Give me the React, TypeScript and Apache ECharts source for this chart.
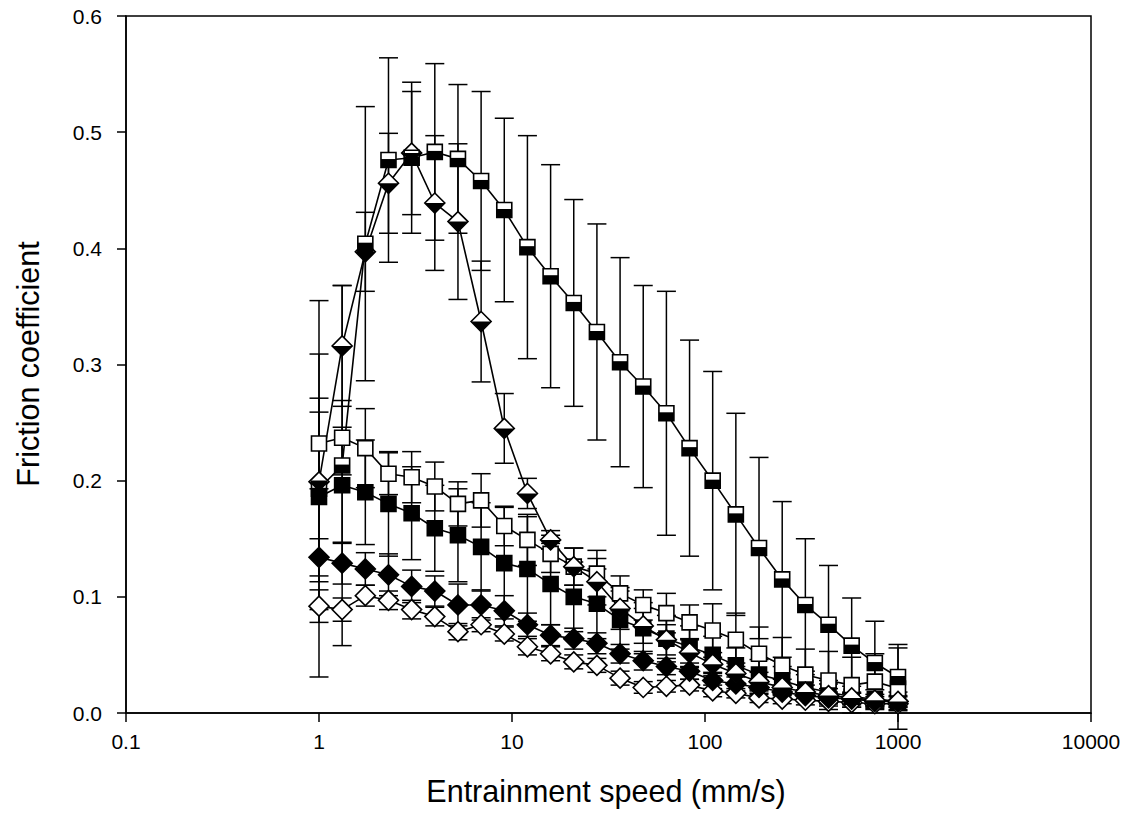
import React, { useEffect, useRef } from "react";
import * as echarts from "echarts";

const speeds = [1, 1.318, 1.738, 2.291, 3.02, 3.981, 5.248, 6.918, 9.12, 12.02, 15.85, 20.89, 27.54, 36.31, 47.86, 63.1, 83.18, 109.6, 144.5, 190.5, 251.2, 331.1, 436.5, 575.4, 758.6, 1000];

const halfSquare = [0.193, 0.213, 0.404, 0.476, 0.478, 0.483, 0.477, 0.458, 0.433, 0.401, 0.376, 0.353, 0.328, 0.302, 0.281, 0.258, 0.228, 0.2, 0.171, 0.142, 0.115, 0.093, 0.076, 0.058, 0.043, 0.031];
const halfSquareErr = [0.162, 0.155, 0.118, 0.088, 0.065, 0.076, 0.064, 0.077, 0.079, 0.096, 0.096, 0.089, 0.093, 0.09, 0.087, 0.105, 0.093, 0.094, 0.087, 0.078, 0.067, 0.057, 0.051, 0.041, 0.036, 0.028];

const halfDiamond = [0.199, 0.316, 0.397, 0.456, 0.482, 0.439, 0.423, 0.337, 0.245, 0.189, 0.149, 0.126, 0.113, 0.09, 0.075, 0.063, 0.052, 0.042, 0.034, 0.027, 0.022, 0.018, 0.015, 0.013, 0.011, 0.01];
const halfDiamondErr = [0.11, 0.052, 0.034, 0.043, 0.053, 0.058, 0.067, 0.052, 0.03, 0.013, 0.008, 0.016, 0.02, 0.018, 0.015, 0.013, 0.012, 0.01, 0.009, 0.008, 0.007, 0.006, 0.006, 0.005, 0.005, 0.005];

const openSquare = [0.232, 0.237, 0.228, 0.206, 0.203, 0.195, 0.18, 0.183, 0.161, 0.149, 0.137, 0.126, 0.12, 0.103, 0.093, 0.086, 0.078, 0.071, 0.063, 0.051, 0.041, 0.033, 0.028, 0.024, 0.027, 0.021];
const openSquareErr = [0.039, 0.032, 0.034, 0.018, 0.022, 0.021, 0.019, 0.023, 0.017, 0.022, 0.016, 0.016, 0.02, 0.015, 0.013, 0.017, 0.015, 0.023, 0.023, 0.023, 0.024, 0.022, 0.025, 0.024, 0.024, 0.035];

const filledSquare = [0.186, 0.196, 0.19, 0.18, 0.172, 0.159, 0.153, 0.143, 0.129, 0.124, 0.111, 0.1, 0.094, 0.08, 0.073, 0.064, 0.057, 0.05, 0.041, 0.033, 0.028, 0.022, 0.018, 0.014, 0.012, 0.01];
const filledSquareErr = [0.073, 0.05, 0.045, 0.045, 0.04, 0.037, 0.04, 0.038, 0.048, 0.045, 0.035, 0.03, 0.03, 0.025, 0.022, 0.02, 0.018, 0.016, 0.015, 0.013, 0.012, 0.011, 0.01, 0.009, 0.008, 0.008];

const filledDiamond = [0.134, 0.129, 0.124, 0.119, 0.109, 0.105, 0.093, 0.093, 0.088, 0.076, 0.067, 0.064, 0.06, 0.051, 0.045, 0.04, 0.036, 0.028, 0.025, 0.022, 0.018, 0.015, 0.013, 0.012, 0.01, 0.01];
const filledDiamondErr = [0.016, 0.018, 0.014, 0.018, 0.014, 0.013, 0.018, 0.013, 0.013, 0.01, 0.009, 0.009, 0.009, 0.008, 0.008, 0.007, 0.007, 0.007, 0.006, 0.006, 0.006, 0.005, 0.005, 0.005, 0.004, 0.004];

const openDiamond = [0.092, 0.089, 0.101, 0.097, 0.089, 0.083, 0.07, 0.076, 0.068, 0.057, 0.051, 0.044, 0.041, 0.03, 0.022, 0.023, 0.024, 0.019, 0.017, 0.013, 0.012, 0.011, 0.01, 0.009, 0.008, 0.008];
const openDiamondErr = [0.014, 0.01, 0.009, 0.008, 0.008, 0.008, 0.007, 0.006, 0.006, 0.007, 0.006, 0.006, 0.006, 0.006, 0.005, 0.005, 0.005, 0.005, 0.004, 0.004, 0.004, 0.004, 0.004, 0.004, 0.003, 0.003];

const xTickLabels = ["0.1", "1", "10", "100", "1000", "10000"];
const xTitle = "Entrainment speed (mm/s)";
const yTitle = "Friction coefficient";

const FONT = "'Liberation Sans', Arial, sans-serif";

function pairs(vals: number[]) {
  return speeds.map((s, i) => [s, vals[i]]);
}

function errData(vals: number[], errs: number[]) {
  return speeds.map((s, i) => [s, vals[i] - errs[i], vals[i] + errs[i]]);
}

function errSeries(vals: number[], errs: number[]) {
  return {
    type: "custom",
    data: errData(vals, errs),
    encode: { x: 0, y: [1, 2] },
    z: 1,
    silent: true,
    renderItem: (params: any, api: any) => {
      const x = api.value(0);
      const lo = api.coord([x, api.value(1)]);
      const hi = api.coord([x, api.value(2)]);
      const hw = 9.5;
      const st = { stroke: "#000", lineWidth: 1.5 };
      return {
        type: "group",
        children: [
          { type: "line", shape: { x1: lo[0], y1: lo[1], x2: hi[0], y2: hi[1] }, style: st },
          { type: "line", shape: { x1: lo[0] - hw, y1: lo[1], x2: lo[0] + hw, y2: lo[1] }, style: st },
          { type: "line", shape: { x1: hi[0] - hw, y1: hi[1], x2: hi[0] + hw, y2: hi[1] }, style: st },
        ],
      };
    },
  };
}

function lineSeries(vals: number[], symbol: string, size: number, fill: string) {
  return {
    type: "line",
    data: pairs(vals),
    symbol,
    symbolSize: size,
    showSymbol: true,
    z: 3,
    lineStyle: { color: "#000", width: 1.6 },
    itemStyle: { color: fill, borderColor: "#000", borderWidth: 1.6, opacity: 1 },
    emphasis: { disabled: true },
  };
}

function overlay(vals: number[], symbol: string, size: number[], offset: number[]) {
  return {
    type: "scatter",
    data: pairs(vals),
    symbol,
    symbolSize: size,
    symbolOffset: offset,
    z: 4,
    itemStyle: { color: "#000", opacity: 1 },
    emphasis: { disabled: true },
  };
}

export default function App() {
  const ref = useRef<HTMLDivElement>(null);
  useEffect(() => {
    if (!ref.current) return;
    const chart = echarts.init(ref.current, undefined, { renderer: "svg" });
    const option: any = {
      animation: false,
      backgroundColor: "#fff",
      grid: {
        left: 126,
        right: 44,
        top: 16,
        bottom: 121,
        show: true,
        borderColor: "#000",
        borderWidth: 1.5,
        backgroundColor: "transparent",
      },
      xAxis: {
        type: "log",
        logBase: 10,
        min: 0.1,
        max: 10000,
        axisLine: { show: true, lineStyle: { color: "#000", width: 1.5 } },
        axisTick: { show: true, inside: false, length: 9, lineStyle: { color: "#000", width: 1.5 } },
        minorTick: { show: false },
        splitLine: { show: false },
        axisLabel: {
          color: "#000",
          fontFamily: FONT,
          fontSize: 21,
          margin: 18,
          formatter: (v: number) => xTickLabels[Math.round(Math.log10(v)) + 1] ?? "",
        },
      },
      yAxis: {
        type: "value",
        min: 0,
        max: 0.6,
        interval: 0.1,
        axisLine: { show: true, lineStyle: { color: "#000", width: 1.5 } },
        axisTick: { show: true, inside: false, length: 9, lineStyle: { color: "#000", width: 1.5 } },
        splitLine: { show: false },
        axisLabel: {
          color: "#000",
          fontFamily: FONT,
          fontSize: 21,
          margin: 24,
          formatter: (v: number) => v.toFixed(1),
        },
      },
      graphic: [
        {
          type: "text",
          x: 606,
          y: 791,
          style: {
            text: xTitle,
            fontFamily: FONT,
            fontSize: 30.5,
            fill: "#000",
            align: "center",
            verticalAlign: "middle",
          },
        },
        {
          type: "text",
          x: 28,
          y: 364,
          rotation: Math.PI / 2,
          style: {
            text: yTitle,
            fontFamily: FONT,
            fontSize: 30.5,
            fill: "#000",
            align: "center",
            verticalAlign: "middle",
          },
        },
      ],
      series: [
        errSeries(halfSquare, halfSquareErr),
        errSeries(halfDiamond, halfDiamondErr),
        errSeries(openSquare, openSquareErr),
        errSeries(filledSquare, filledSquareErr),
        errSeries(filledDiamond, filledDiamondErr),
        errSeries(openDiamond, openDiamondErr),
        lineSeries(openDiamond, "diamond", 20, "#fff"),
        lineSeries(filledDiamond, "diamond", 20, "#000"),
        lineSeries(filledSquare, "rect", 15, "#000"),
        lineSeries(openSquare, "rect", 15, "#fff"),
        lineSeries(halfDiamond, "diamond", 20, "#fff"),
        overlay(halfDiamond, "path://M0,0L2,0L1,1Z", [20, 10], [0, 5]),
        lineSeries(halfSquare, "rect", 15, "#fff"),
        overlay(halfSquare, "rect", [15, 8.5], [0, 3.25]),
      ],
    };
    chart.setOption(option);
    return () => chart.dispose();
  }, []);
  return (
    <div
      ref={ref}
      style={{ position: "absolute", left: 0, top: 0, width: 1135, height: 834, background: "#fff" }}
    />
  );
}
